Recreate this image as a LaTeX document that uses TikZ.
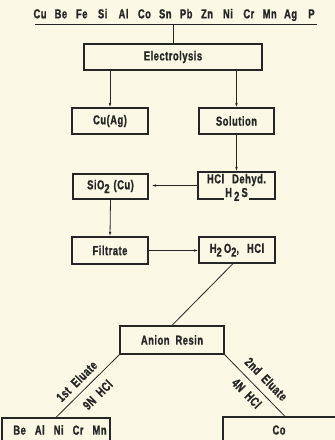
\documentclass[tikz,border=0pt]{standalone}
\usepackage{fontspec}
\setmainfont[FakeStretch=0.72, LetterSpace=4, BoldFeatures={FakeBold=1.2}]{Liberation Sans}
\usetikzlibrary{arrows.meta}
\definecolor{bg}{HTML}{FBF9E6}
\definecolor{ink}{HTML}{262626}
\newcommand\lowsub[1]{\raisebox{-0.55ex}{#1}}
\newcommand\elm[1]{\makebox[20.88pt]{#1}}
\begin{document}
\begin{tikzpicture}[x=1pt,y=-1pt,
  every node/.style={font=\fontsize{13}{15}\selectfont\bfseries, text=ink},
  box/.style={draw=ink, line width=1.2pt, rectangle, inner sep=0pt},
  conn/.style={draw=ink, line width=0.8pt},
  arr/.style={conn, -{Latex[length=4.5pt,width=2.6pt]}},
  lab/.style={sloped, inner sep=0pt}]
\useasboundingbox (0,0) rectangle (335,440);
\fill[bg] (0,0) rectangle (335,440);
\clip (0,0) rectangle (335,440);
% top element list
\node (top) at (175.75,15) {\elm{Cu}\elm{Be}\elm{Fe}\elm{Si}\elm{Al}\elm{Co}\elm{Sn}\elm{Pb}\elm{Zn}\elm{Ni}\elm{Cr}\elm{Mn}\elm{Ag}\elm{P}};
\coordinate (ul) at (35,24.3);
\coordinate (ur) at (317,24.3);
\draw[conn, line width=1pt] (ul) -- (ur);
% boxes
\node[box, minimum width=178pt, minimum height=26pt] (elec) at (173,57) {Electrolysis};
\node[box, minimum width=76pt, minimum height=26pt] (cuag) at (110,121) {Cu(Ag)};
\node[box, minimum width=75pt, minimum height=26pt] (sol) at (236.5,121) {Solution};
\node[box, minimum width=77pt, minimum height=27pt] (hcl) at (236.5,185.5) {};
\node (hcltxt) at (236.5,180) {HCl\hspace{8pt}Dehyd.};
\node[fill=bg, inner sep=1.5pt, anchor=base] (h2s) at (236.5,197) {H\,\lowsub{2}\,S};
\node[box, minimum width=75pt, minimum height=25pt] (sio) at (110.5,186.5) {SiO\lowsub{2}\hspace{4pt}(Cu)};
\node[box, minimum width=76pt, minimum height=27pt] (filt) at (110,250.5) {Filtrate};
\node[box, minimum width=76pt, minimum height=26pt] (hoo) at (237,250) {H\lowsub{2}\,O\lowsub{2},\hspace{8pt}HCl};
\node[box, minimum width=108pt, minimum height=44pt] (bebox) at (56,440) {};
\node[box, minimum width=104pt, minimum height=28pt] (anion) at (172,340) {Anion\hspace{6pt}Resin};
\node (betxt) at (60,430) {Be\hspace{9pt}Al\hspace{9pt}Ni\hspace{9pt}Cr\hspace{9pt}Mn};
\node[box, minimum width=124pt, minimum height=44pt] (cobox) at (285,439) {};
\node (cotxt) at (279,430) {Co};
% connectors
\draw[conn] (ul -| elec.north) -- (elec.north);
\draw[arr] (elec.south -| cuag.north) -- (cuag.north);
\draw[arr] (elec.south -| sol.north) -- (sol.north);
\draw[arr] (sol.south) -- (hcl.north);
\draw[arr, shorten >=3pt] (hcl.west) -- (hcl.west -| sio.east);
\draw[arr] (sio.south) -- (filt.north);
\draw[arr] (filt.east) -- (filt.east -| hoo.west);
\draw[conn] ([xshift=-4pt]hoo.south) -- (anion.north);
\draw[conn] (bebox.north) --
  node[lab, pos=0.45, above=6pt] {1st\hspace{6pt}Eluate}
  node[lab, pos=0.51, below=8pt] {9N\hspace{6pt}HCl} (anion.south west);
\draw[conn] (anion.south east) --
  node[lab, pos=0.54, above=7.5pt] {2nd\hspace{6pt}Eluate}
  node[lab, pos=0.50, below=6pt] {4N\hspace{6pt}HCl} (cobox.north);
\end{tikzpicture}
\end{document}
